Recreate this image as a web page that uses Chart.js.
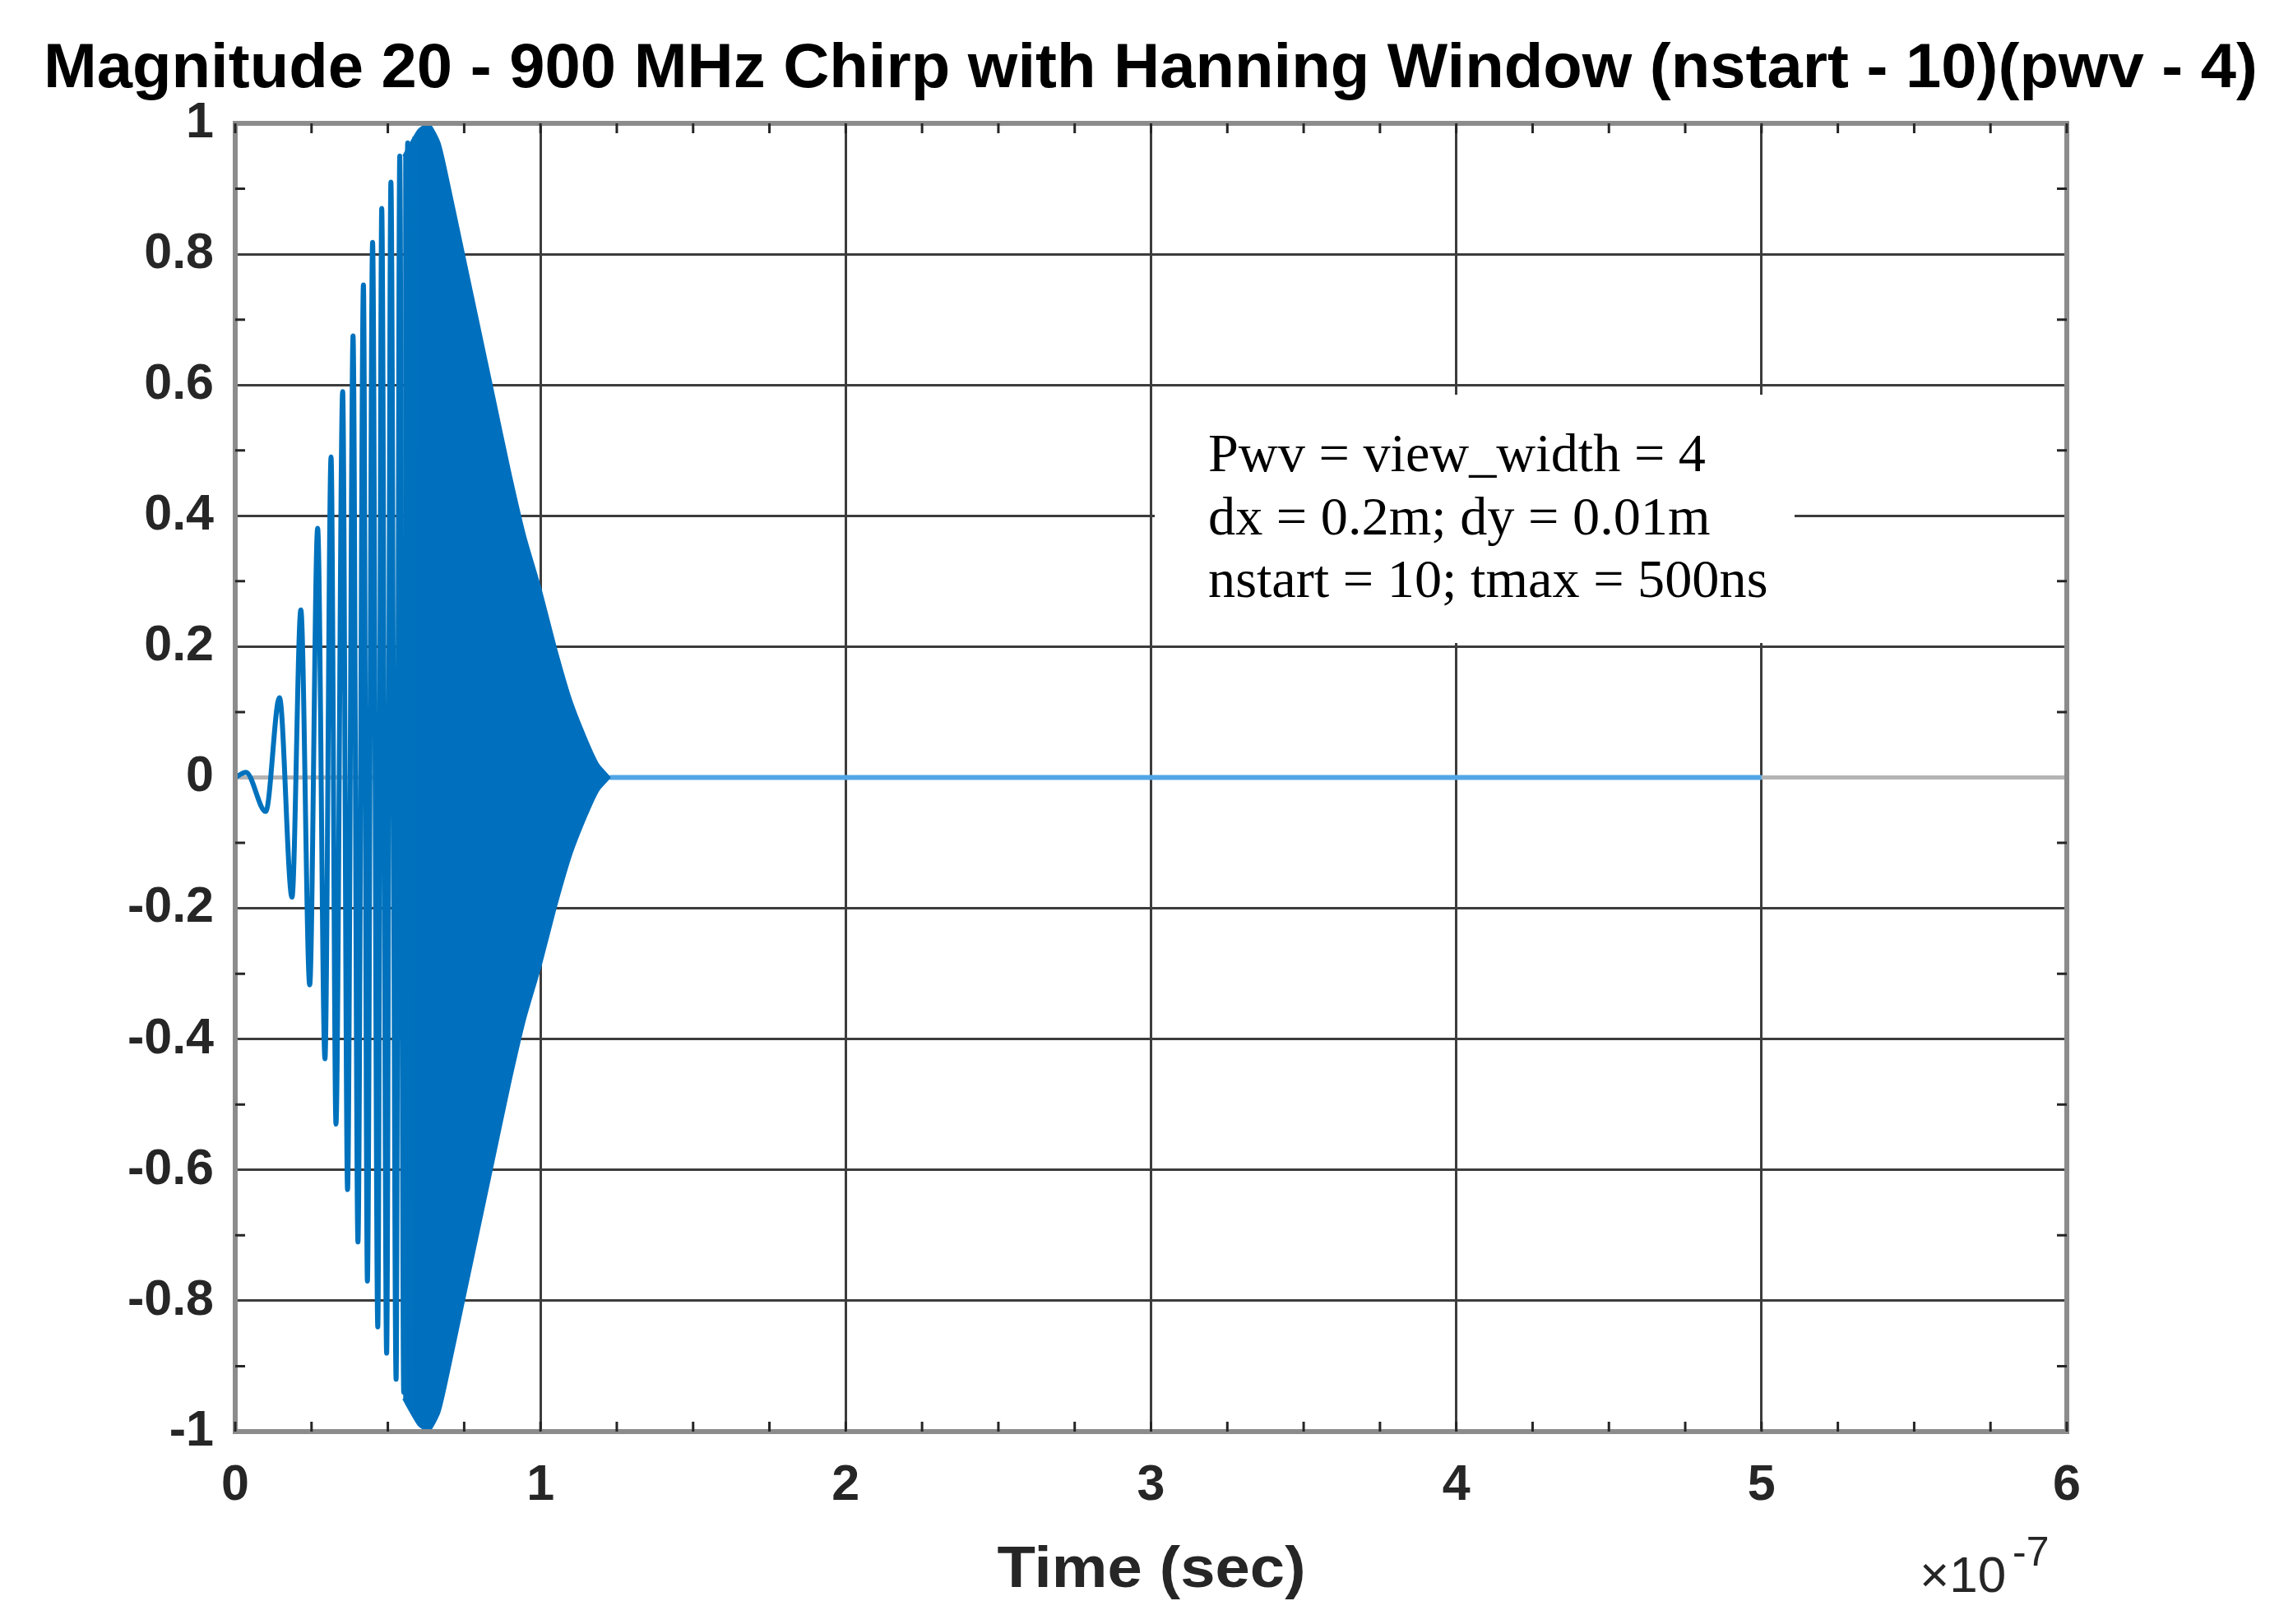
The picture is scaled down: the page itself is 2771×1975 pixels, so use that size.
<!DOCTYPE html>
<html><head><meta charset="utf-8">
<script src="https://cdn.jsdelivr.net/npm/chart.js@4/dist/chart.umd.min.js"></script>
<style>html,body{margin:0;padding:0;background:#fff;overflow:hidden}#wrap{width:2771px;height:1975px;position:relative}</style>
</head><body><div id="wrap"><canvas id="c" width="2771" height="1975"></canvas></div>
<script>
// ---- text ----
const titleText = 'Magnitude 20 - 900 MHz Chirp with Hanning Window (nstart - 10)(pwv - 4)';
const xAxisTitle = 'Time (sec)';
const xExponent = '-7';
const noteLines = ['Pwv = view_width = 4', 'dx = 0.2m; dy = 0.01m', 'nstart = 10; tmax = 500ns'];

// ---- ticks (time in units of 1e-7 s) ----
const xTicks = [0, 1, 2, 3, 4, 5, 6];
const yTicks = [-1, -0.8, -0.6, -0.4, -0.2, 0, 0.2, 0.4, 0.6, 0.8, 1];

// ---- resolved oscillation peaks at the start of the chirp ----
const chirpT = [0, 0.035, 0.10, 0.145, 0.186, 0.215, 0.244, 0.27, 0.294, 0.314, 0.33, 0.352, 0.368, 0.386, 0.402, 0.42, 0.433, 0.45, 0.467, 0.48, 0.496, 0.51, 0.527, 0.539, 0.552, 0.565, 0.577, 0.589];
const chirpV = [0, 0.008, -0.052, 0.122, -0.183, 0.256, -0.317, 0.381, -0.43, 0.49, -0.53, 0.59, -0.63, 0.675, -0.71, 0.753, -0.77, 0.818, -0.84, 0.87, -0.88, 0.91, -0.92, 0.95, -0.94, 0.97, -0.96, 0.98];

// ---- envelope of the dense (unresolved) part ----
const envT = [0.55, 0.60, 0.634, 0.67, 0.70, 0.75, 0.80, 0.85, 0.90, 0.95, 1.00, 1.05, 1.10, 1.15, 1.19, 1.228];
const envUpper = [0.95, 0.99, 1.0, 0.97, 0.91, 0.80, 0.69, 0.58, 0.47, 0.37, 0.29, 0.20, 0.12, 0.06, 0.02, 0.0];
const envLower = [-0.95, -0.99, -1.0, -0.97, -0.91, -0.80, -0.69, -0.58, -0.47, -0.37, -0.29, -0.20, -0.12, -0.06, -0.02, 0.0];

// ---- flat tail up to tmax ----
const tailT = [1.228, 5.0];
const tailV = [0, 0];

const pts = (xs, ys) => xs.map((x, i) => ({x: x, y: ys[i]}));
const SANS = '"Liberation Sans", Arial, Helvetica, sans-serif';
const SERIF = '"Liberation Serif", "Times New Roman", serif';

function drawScaled(ctx, text, font, x, y, align, targetW) {
  ctx.save();
  ctx.font = font;
  const w = ctx.measureText(text).width;
  const sx = targetW ? targetW / w : 1;
  ctx.translate(x, y);
  ctx.scale(sx, 1);
  ctx.textAlign = align;
  ctx.textBaseline = 'alphabetic';
  ctx.fillText(text, 0, 0);
  ctx.restore();
}

const decor = {
  id: 'decor',
  beforeDraw(chart) {
    const ctx = chart.ctx;
    ctx.save(); ctx.fillStyle = '#fff'; ctx.fillRect(0, 0, chart.width, chart.height); ctx.restore();
  },
  afterDatasetsDraw(chart) {
    const ctx = chart.ctx, a = chart.chartArea;
    const xs = chart.scales.x, ys = chart.scales.y;
    // note box
    ctx.save();
    ctx.fillStyle = '#fff';
    ctx.fillRect(1404, 480, 778, 302);
    ctx.fillStyle = '#000';
    ctx.font = '66px ' + SERIF;
    const w0 = ctx.measureText(noteLines[0]).width;
    const sx = 605 / w0;
    const base = [573, 650, 726];
    noteLines.forEach((t, i) => {
      ctx.save(); ctx.translate(1469, base[i]); ctx.scale(sx, 1);
      ctx.textAlign = 'left'; ctx.textBaseline = 'alphabetic'; ctx.fillText(t, 0, 0); ctx.restore();
    });
    ctx.restore();
    // frame
    ctx.save();
    ctx.strokeStyle = '#8c8c8c';
    ctx.lineWidth = 6;
    ctx.strokeRect(a.left, a.top, a.right - a.left, a.bottom - a.top);
    // minor ticks
    ctx.strokeStyle = '#262626';
    ctx.lineWidth = 3;
    const L = 12;
    for (let v = 0.25; v < 6; v += 0.25) {
      if (Math.abs(v - Math.round(v)) < 1e-6) continue;
      const px = xs.getPixelForValue(v);
      ctx.beginPath();
      ctx.moveTo(px, a.bottom); ctx.lineTo(px, a.bottom - L);
      ctx.moveTo(px, a.top); ctx.lineTo(px, a.top + L);
      ctx.stroke();
    }
    for (let k = -9; k <= 9; k += 2) {
      const py = ys.getPixelForValue(k / 10);
      ctx.beginPath();
      ctx.moveTo(a.left, py); ctx.lineTo(a.left + L, py);
      ctx.moveTo(a.right, py); ctx.lineTo(a.right - L, py);
      ctx.stroke();
    }
    xTicks.forEach(v => {
      const px = xs.getPixelForValue(v);
      ctx.beginPath();
      ctx.moveTo(px, a.bottom); ctx.lineTo(px, a.bottom - L);
      ctx.moveTo(px, a.top); ctx.lineTo(px, a.top + L);
      ctx.stroke();
    });
    ctx.restore();
    // titles
    ctx.save();
    ctx.fillStyle = '#000';
    drawScaled(ctx, titleText, 'bold 76px ' + SANS, 1399, 106, 'center', 2692);
    ctx.fillStyle = '#262626';
    drawScaled(ctx, xAxisTitle, 'bold 70px ' + SANS, 1400, 1930, 'center', 375);
    ctx.font = '62px ' + SANS;
    ctx.textAlign = 'left'; ctx.textBaseline = 'alphabetic';
    ctx.fillText('\u00d710', 2334, 1936);
    ctx.font = '50px ' + SANS;
    ctx.fillText(xExponent, 2447, 1904);
    ctx.restore();
  }
};

const tickFont = {family: SANS, size: 61, weight: 'bold'};

new Chart(document.getElementById('c'), {
  type: 'line',
  data: {
    datasets: [
      {
        label: 'chirp start', data: pts(chirpT, chirpV),
        borderColor: '#0072BD', borderWidth: 6, pointRadius: 0,
        cubicInterpolationMode: 'monotone', fill: false, order: 1
      },
      {
        label: 'envelope upper', data: pts(envT, envUpper),
        borderColor: '#0070BE', backgroundColor: '#0070BE', borderWidth: 2,
        pointRadius: 0, fill: '+1', tension: 0.2, order: 2
      },
      {
        label: 'envelope lower', data: pts(envT, envLower),
        borderColor: '#0070BE', borderWidth: 2, pointRadius: 0, fill: false, tension: 0.2, order: 2
      },
      {
        label: 'tail', data: pts(tailT, tailV),
        borderColor: '#52a6e6', borderWidth: 6, pointRadius: 0, fill: false, order: 3
      }
    ]
  },
  options: {
    responsive: false, animation: false, devicePixelRatio: 1,
    layout: {padding: {top: 150, right: 258, bottom: 0, left: 0}},
    plugins: {legend: {display: false}, title: {display: false}, tooltip: {enabled: false}},
    scales: {
      x: {
        type: 'linear', min: 0, max: 6,
        afterBuildTicks: s => { s.ticks = xTicks.map(v => ({value: v})); },
        afterFit: s => { s.height = 234; },
        ticks: {font: tickFont, color: '#262626', padding: 30, maxRotation: 0, callback: v => String(v)},
        grid: {color: '#3c3c3c', lineWidth: 3, drawTicks: false},
        border: {display: false}
      },
      y: {
        type: 'linear', min: -1, max: 1,
        afterBuildTicks: s => { s.ticks = yTicks.map(v => ({value: v})); },
        afterFit: s => { s.width = 286; },
        ticks: {font: tickFont, color: '#262626', padding: 26, callback: v => String(Number(v.toFixed(1)))},
        grid: {
          color: c => (c.tick && c.tick.value === 0) ? '#b4b4b4' : '#3c3c3c',
          lineWidth: c => (c.tick && c.tick.value === 0) ? 5 : 3,
          drawTicks: false
        },
        border: {display: false}
      }
    }
  },
  plugins: [decor]
});
</script>
</body></html>
